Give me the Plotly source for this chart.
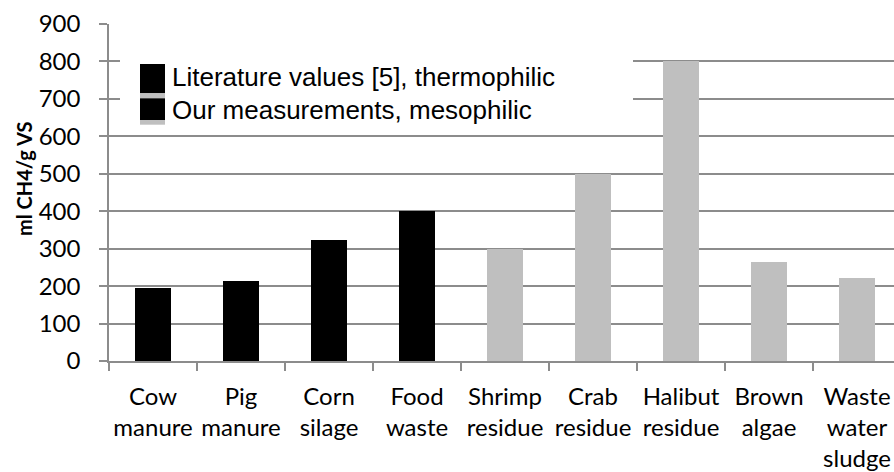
import plotly.graph_objects as go

# ---- data ----
lit_categories = ["Cow manure", "Pig manure", "Corn silage", "Food waste"]
lit_values = [195, 213, 323, 400]

our_categories = ["Shrimp residue", "Crab residue", "Halibut residue", "Brown algae", "Waste water sludge"]
our_values = [300, 500, 800, 265, 222]

all_categories = lit_categories + our_categories
tick_labels = ["Cow<br>manure", "Pig<br>manure", "Corn<br>silage", "Food<br>waste",
               "Shrimp<br>residue", "Crab<br>residue", "Halibut<br>residue",
               "Brown<br>algae", "Waste<br>water<br>sludge"]
y_ticks = list(range(0, 901, 100))

series_names = ["Literature values [5], thermophilic", "Our measurements, mesophilic"]

# ---- geometry helpers (pixels -> paper) ----
W, H = 894, 472
ML, MR, MT, MB = 109, 0, 24, 111
PW, PH = W - ML - MR, H - MT - MB


def px(x):
    return (x - ML) / PW


def py(y):
    return (H - MB - y) / PH


GRID = "#8c8c8c"
TICKFONT = dict(family="Lato, Open Sans, sans-serif", size=24, color="#000000")

fig = go.Figure()
fig.add_trace(go.Bar(x=lit_categories, y=lit_values, name=series_names[0],
                     marker=dict(color="#000000", line=dict(width=0)), width=0.41,
                     showlegend=False))
fig.add_trace(go.Bar(x=our_categories, y=our_values, name=series_names[1],
                     marker=dict(color="#BFBFBF", line=dict(width=0)), width=0.41,
                     showlegend=False))

# legend box (manual, to match the original's large swatches)
shapes = [
    dict(type="rect", xref="paper", yref="paper", x0=px(120), x1=px(633), y0=py(131), y1=py(38),
         fillcolor="white", line=dict(width=0), layer="above"),
    dict(type="rect", xref="paper", yref="paper", x0=px(140), x1=px(165), y0=py(93.3), y1=py(64),
         fillcolor="#000000", line=dict(width=0), layer="above"),
    dict(type="rect", xref="paper", yref="paper", x0=px(140), x1=px(165), y0=py(98.3), y1=py(93.3),
         fillcolor="#BFBFBF", line=dict(width=0), layer="above"),
    dict(type="rect", xref="paper", yref="paper", x0=px(140), x1=px(165), y0=py(120), y1=py(98.3),
         fillcolor="#000000", line=dict(width=0), layer="above"),
    dict(type="rect", xref="paper", yref="paper", x0=px(140), x1=px(165), y0=py(124.7), y1=py(120),
         fillcolor="#BFBFBF", line=dict(width=0), layer="above"),
]

annotations = [
    dict(text=series_names[0], xref="paper", yref="paper", x=px(170), y=py(76.5),
         xanchor="left", yanchor="middle", showarrow=False,
         font=dict(family="Liberation Sans, Arial, sans-serif", size=26, color="#000000")),
    dict(text=series_names[1], xref="paper", yref="paper", x=px(170), y=py(109.5),
         xanchor="left", yanchor="middle", showarrow=False,
         font=dict(family="Liberation Sans, Arial, sans-serif", size=26, color="#000000")),
    dict(text="<b>ml CH4/g VS</b>", xref="paper", yref="paper", x=px(24), y=py(179),
         xanchor="center", yanchor="middle", textangle=-90, showarrow=False,
         font=dict(family="Lato, Open Sans, sans-serif", size=20, color="#000000")),
]

fig.update_layout(
    width=W, height=H,
    margin=dict(l=ML, r=MR, t=MT, b=MB, pad=0, autoexpand=False),
    paper_bgcolor="white", plot_bgcolor="white",
    barmode="overlay",
    bargap=0,
    shapes=shapes,
    annotations=annotations,
    showlegend=False,
)

fig.update_xaxes(
    type="category",
    categoryorder="array", categoryarray=all_categories,
    tickmode="array", tickvals=all_categories, ticktext=tick_labels,
    range=[-0.5, 8.42],
    tickson="boundaries",
    tickangle=0,
    automargin=False,
    ticks="outside", ticklen=8, tickwidth=1.5, tickcolor=GRID,
    showline=True, linecolor=GRID, linewidth=1.5,
    showgrid=False, zeroline=False,
    tickfont=TICKFONT,
    ticklabelstandoff=13,
)
fig.update_yaxes(
    range=[0, 900],
    tickmode="array", tickvals=y_ticks,
    automargin=False,
    ticks="outside", ticklen=8, tickwidth=1.5, tickcolor=GRID,
    showline=True, linecolor=GRID, linewidth=1.5,
    showgrid=True, gridcolor=GRID, gridwidth=1.5,
    zeroline=False,
    tickfont=TICKFONT,
    ticklabelstandoff=14,
)

fig.write_html("out.html", config={"displayModeBar": False},
               post_script="document.body.style.margin='0';document.body.style.overflow='hidden';")
